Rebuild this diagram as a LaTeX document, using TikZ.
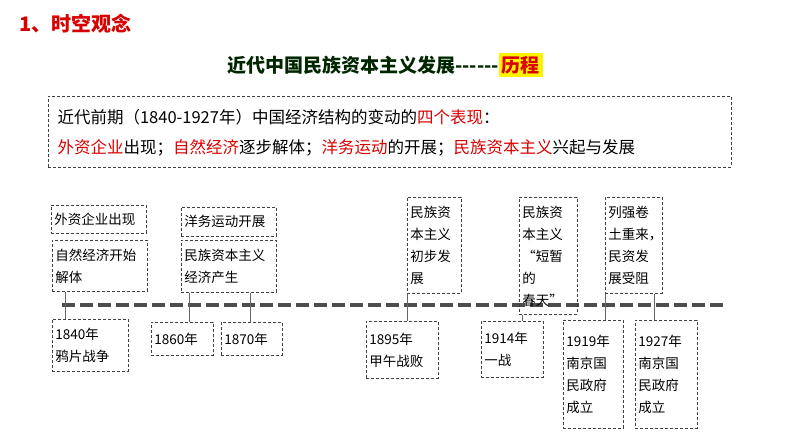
\documentclass[tikz,border=0pt]{standalone}
\usepackage{fontspec}
\setmainfont{Noto Sans CJK SC}
\newfontfamily\cjk{Noto Sans CJK SC}
\begin{document}
\begin{tikzpicture}[x=1pt,y=-1pt,
 box/.style={draw=black!75,dashed,line width=0.7pt,dash pattern=on 3pt off 2pt,anchor=north west,inner sep=3pt,font=\fontsize{13.5}{22}\selectfont,align=left,text width=#1},
 box/.default=60pt,
 link/.style={draw=black!60,line width=0.7pt}]
\useasboundingbox (0,0) rectangle (794,447);
\node[anchor=west,text=red!85!black,font=\fontsize{20}{24}\selectfont\bfseries] (hd) at (16,24) {1、时空观念};
\node[font=\fontsize{19}{24}\selectfont\bfseries,text=black!85!green] (tt) at (385,65) {近代中国民族资本主义发展{-}{-}{-}{-}{-}{-}\colorbox{yellow}{\textcolor{red!85!black}{历程}}};
\node[draw=black!75,dashed,dash pattern=on 3pt off 2pt,anchor=north west,minimum width=683pt,minimum height=71pt,inner sep=0pt] (top) at (48,96) {};
\node[anchor=west,font=\fontsize{16.5}{20}\selectfont] (l1) at (54,117) {近代前期（1840-1927年）中国经济结构的变动的\textcolor{red!85!black}{四个表现}：};
\node[anchor=west,font=\fontsize{16.5}{20}\selectfont] (l2) at (54,148) {\textcolor{red!85!black}{外资企业}出现；\textcolor{red!85!black}{自然经济}逐步解体；\textcolor{red!85!black}{洋务运动}的开展；\textcolor{red!85!black}{民族资本主义}兴起与发展};
\coordinate (tl0) at (62,305);
\coordinate (tl1) at (724,305);
\draw[line width=3.5pt,black!70,dash pattern=on 13pt off 5pt] (tl0) -- (tl1);
% upper boxes
\node[box=89pt,minimum height=28pt] (wz) at (51,205) {外资企业出现};
\node[box=89pt,minimum height=51pt] (zr) at (52,240) {自然经济开始\\解体};
\node[box=89pt,minimum height=29pt] (yw) at (181,207) {洋务运动开展};
\node[box=89pt,minimum height=52pt] (mz) at (181,240) {民族资本主义\\经济产生};
\node[box=48pt,minimum height=96pt] (cb) at (407,197) {民族资\\本主义\\初步发\\展};
\node[box=52pt,minimum height=117pt] (dz) at (519,197) {民族资\\本主义\\“短暂\\的\\春天”};
\node[box=51pt,minimum height=96pt] (lq) at (605,197) {列强卷\\土重来，\\民资发\\展受阻};
% lower boxes
\node[box=70pt,minimum height=52pt] (y1840) at (52,319) {1840年\\鸦片战争};
\node[box=56pt,minimum height=33pt] (y1860) at (151,322) {1860年};
\node[box=55pt,minimum height=33pt] (y1870) at (221,322) {1870年};
\node[box=66pt,minimum height=57pt] (y1895) at (366,321) {1895年\\甲午战败};
\node[box=56pt,minimum height=56pt] (y1914) at (481,321) {1914年\\一战};
\node[box=54pt,minimum height=108pt] (y1919) at (563,320) {1919年\\南京国\\民政府\\成立};
\node[box=56pt,minimum height=108pt] (y1927) at (635,320) {1927年\\南京国\\民政府\\成立};
% connectors
\draw[link] ([xshift=13pt]zr.south west) -- ([xshift=13pt]zr.south west |- y1840.north);
\draw[link] ([xshift=8pt]mz.south west) -- ([xshift=8pt]mz.south west |- y1860.north);
\draw[link] ([xshift=69pt]mz.south west) -- ([xshift=69pt]mz.south west |- y1870.north);
\draw[link] (cb.south west) -- (cb.south west |- y1895.north);
\draw[link] ([xshift=3pt]dz.south west) -- ([xshift=3pt]dz.south west |- y1914.north);
\draw[link] (lq.south west) -- (lq.south west |- y1919.north);
\draw[link] ([xshift=49pt]lq.south west) -- ([xshift=49pt]lq.south west |- y1927.north);
\end{tikzpicture}
\end{document}
